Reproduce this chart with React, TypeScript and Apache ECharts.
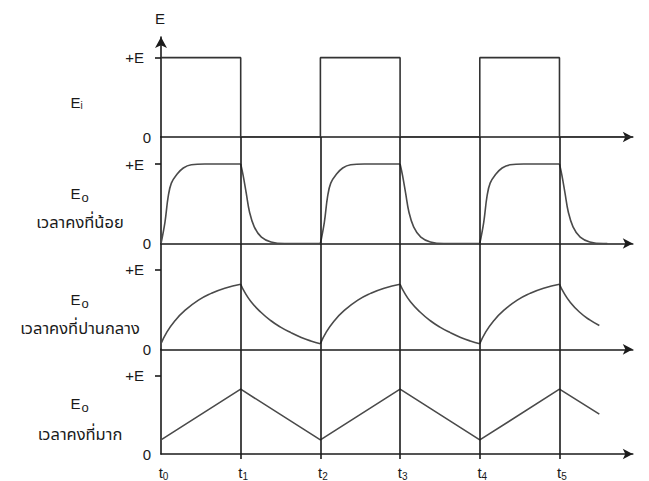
import React, { useEffect, useRef } from "react";
import * as echarts from "echarts";

// Time axis: t0 … t5, one unit per half period of the input square wave
const T_TICKS = [0, 1, 2, 3, 4, 5];
const T_END = 5.92;

// Input voltage Ei (in units of +E)
const INPUT_WAVE: [number, number][] = [
  [0, 1], [1, 1], [1, 0], [2, 0], [2, 1], [3, 1], [3, 0], [4, 0], [4, 1], [5, 1], [5, 0], [5.92, 0],
];

// Output Eo, small time constant: each charge / discharge stretch
const SHORT_TC: [number, number][][] = [
  [[0, 0], [0.05, 0.27], [0.09, 0.59], [0.13, 0.76], [0.2, 0.87], [0.28, 0.95], [0.38, 0.99], [0.55, 1], [1, 1]],
  [[1, 1], [1.03, 0.86], [1.07, 0.63], [1.11, 0.4], [1.17, 0.21], [1.26, 0.08], [1.38, 0.02], [1.55, 0], [2, 0]],
  [[2, 0], [2.05, 0.27], [2.09, 0.59], [2.13, 0.76], [2.2, 0.87], [2.28, 0.95], [2.38, 0.99], [2.55, 1], [3, 1]],
  [[3, 1], [3.03, 0.86], [3.07, 0.63], [3.11, 0.4], [3.17, 0.21], [3.26, 0.08], [3.38, 0.02], [3.55, 0], [4, 0]],
  [[4, 0], [4.05, 0.27], [4.09, 0.59], [4.13, 0.76], [4.2, 0.87], [4.28, 0.95], [4.38, 0.99], [4.55, 1], [5, 1]],
  [[5, 1], [5.03, 0.86], [5.07, 0.63], [5.11, 0.4], [5.17, 0.21], [5.26, 0.08], [5.38, 0.02], [5.55, 0], [5.6, 0]],
];

// Output Eo, medium time constant
const MEDIUM_TC: [number, number][][] = [
  [[0, 0.07], [0.07, 0.21], [0.175, 0.36], [0.3, 0.49], [0.47, 0.62], [0.63, 0.705], [0.8, 0.77], [1, 0.82]],
  [[1, 0.82], [1.05, 0.72], [1.13, 0.6], [1.25, 0.47], [1.38, 0.36], [1.5, 0.28], [1.63, 0.21], [1.76, 0.15], [1.88, 0.105], [2, 0.07]],
  [[2, 0.07], [2.07, 0.21], [2.175, 0.36], [2.3, 0.49], [2.47, 0.62], [2.63, 0.705], [2.8, 0.77], [3, 0.82]],
  [[3, 0.82], [3.05, 0.72], [3.13, 0.6], [3.25, 0.47], [3.38, 0.36], [3.5, 0.28], [3.63, 0.21], [3.76, 0.15], [3.88, 0.105], [4, 0.07]],
  [[4, 0.07], [4.07, 0.21], [4.175, 0.36], [4.3, 0.49], [4.47, 0.62], [4.63, 0.705], [4.8, 0.77], [5, 0.82]],
  [[5, 0.82], [5.05, 0.72], [5.13, 0.6], [5.25, 0.47], [5.38, 0.37], [5.5, 0.3]],
];

// Output Eo, large time constant
const LONG_TC: [number, number][] = [
  [0, 0.18], [1, 0.83], [2, 0.18], [3, 0.83], [4, 0.18], [5, 0.83], [5.5, 0.51],
];

const Y_LABELS: Record<number, string> = { 1: "+E", 0: "0" };

const AXIS_COLOR = "#1b1b1b";
const WAVE_COLOR = "#333333";
const CURVE_COLOR = "#4a4a4a";
const TEXT_COLOR = "#1a1a1a";
const LATIN = 'Arial, "Liberation Sans", sans-serif';
const THAI = 'Tahoma, "Noto Sans Thai", "Noto Sans", "Liberation Sans", sans-serif';

const PANELS = [
  { top: 37, height: 100, yMax: 1.26 },
  { top: 137, height: 106.5, yMax: 1.34 },
  { top: 243.5, height: 105.8, yMax: 1.334 },
  { top: 349.3, height: 107.7, yMax: 1.341 },
];
const GRID_LEFT = 161;
const GRID_WIDTH = 471.8;

function buildOption() {
  const axisLine = { color: AXIS_COLOR, width: 1.6 };
  const grid = PANELS.map((p) => ({ left: GRID_LEFT, top: p.top, width: GRID_WIDTH, height: p.height }));

  const xAxis = PANELS.map((_, i) => ({
    gridIndex: i,
    type: "value",
    min: 0,
    max: T_END,
    interval: 1,
    axisLine: { show: true, onZero: false, symbol: ["none", "arrow"], symbolSize: [8, 10], lineStyle: axisLine },
    axisTick:
      i === 3
        ? { show: true, customValues: T_TICKS.slice(1), length: 5, lineStyle: axisLine }
        : { show: false },
    axisLabel:
      i === 3
        ? {
            show: true,
            customValues: T_TICKS,
            margin: 9,
            formatter: (v: number) => `{t|t}{s|${v}}`,
            rich: {
              t: { fontSize: 15, fontFamily: LATIN, color: TEXT_COLOR, padding: [0, 0, 0, 5] },
              s: { fontSize: 10, fontFamily: LATIN, color: TEXT_COLOR, padding: [8, 0, 0, 0] },
            },
          }
        : { show: false },
    splitLine: { show: false },
  }));

  const yAxis = PANELS.map((p, i) => ({
    gridIndex: i,
    type: "value",
    min: 0,
    max: p.yMax,
    axisLine: {
      show: true,
      onZero: false,
      symbol: i === 0 ? ["none", "arrow"] : ["none", "none"],
      symbolSize: [9, 11],
      lineStyle: axisLine,
    },
    axisTick: { show: true, customValues: [1], length: 6, lineStyle: axisLine },
    axisLabel: {
      show: true,
      customValues: [0, 1],
      margin: 10,
      formatter: (v: number) => (v === 1 ? `{p|${Y_LABELS[1]}}` : `{z|${Y_LABELS[0]}}`),
      rich: {
        p: { fontSize: 15, fontFamily: LATIN, color: TEXT_COLOR, padding: [0, 7, 0, 0] },
        z: { fontSize: 15, fontFamily: LATIN, color: TEXT_COLOR },
      },
    },
    splitLine: { show: false },
  }));

  const timeMarks = {
    silent: true,
    symbol: ["none", "none"],
    label: { show: false },
    lineStyle: { color: AXIS_COLOR, width: 1.6, type: "solid" },
    emphasis: { disabled: true },
    data: T_TICKS.slice(1).map((t) => ({ xAxis: t })),
  };

  const lineBase = {
    type: "line",
    showSymbol: false,
    symbol: "none",
    silent: true,
    emphasis: { disabled: true },
  };

  const series: any[] = [
    {
      ...lineBase,
      name: "Ei",
      xAxisIndex: 0,
      yAxisIndex: 0,
      data: INPUT_WAVE,
      lineStyle: { color: WAVE_COLOR, width: 1.6 },
    },
    ...SHORT_TC.map((seg, k) => ({
      ...lineBase,
      xAxisIndex: 1,
      yAxisIndex: 1,
      smooth: 0.4,
      data: seg,
      lineStyle: { color: CURVE_COLOR, width: 1.6 },
      markLine: k === 0 ? timeMarks : undefined,
    })),
    ...MEDIUM_TC.map((seg, k) => ({
      ...lineBase,
      xAxisIndex: 2,
      yAxisIndex: 2,
      smooth: 0.5,
      data: seg,
      lineStyle: { color: CURVE_COLOR, width: 1.6 },
      markLine: k === 0 ? timeMarks : undefined,
    })),
    {
      ...lineBase,
      xAxisIndex: 3,
      yAxisIndex: 3,
      data: LONG_TC,
      lineStyle: { color: CURVE_COLOR, width: 1.6 },
      markLine: timeMarks,
    },
  ];

  const txt = (x: number, y: number, text: string, size: number, family: string, align = "left") => ({
    type: "text",
    x,
    y,
    silent: true,
    style: { text, fontSize: size, fontFamily: family, fill: TEXT_COLOR, align, verticalAlign: "middle" },
  });

  const graphic = [
    txt(160, 18, "E", 15, LATIN, "center"),
    txt(70.5, 102, "E", 15, LATIN),
    txt(80.5, 105, "i", 10, LATIN),
    txt(70.5, 193, "E", 15, LATIN),
    txt(81.5, 197, "o", 13, LATIN),
    txt(80, 222, "เวลาคงที่น้อย", 16.5, THAI, "center"),
    txt(70.5, 299.5, "E", 15, LATIN),
    txt(81.5, 303.5, "o", 13, LATIN),
    txt(80, 328, "เวลาคงที่ปานกลาง", 16.5, THAI, "center"),
    txt(70.5, 403, "E", 15, LATIN),
    txt(81.5, 407, "o", 13, LATIN),
    txt(80, 434.5, "เวลาคงที่มาก", 16.5, THAI, "center"),
  ];

  return {
    animation: false,
    backgroundColor: "#ffffff",
    grid,
    xAxis,
    yAxis,
    series,
    graphic,
  };
}

export default function App() {
  const ref = useRef<HTMLDivElement>(null);
  useEffect(() => {
    if (!ref.current) return;
    const chart = echarts.init(ref.current, null, { renderer: "svg" });
    chart.setOption(buildOption() as any);
    return () => chart.dispose();
  }, []);
  return (
    <div
      ref={ref}
      style={{ position: "fixed", left: 0, top: 0, width: 649, height: 481, background: "#fff" }}
    />
  );
}
